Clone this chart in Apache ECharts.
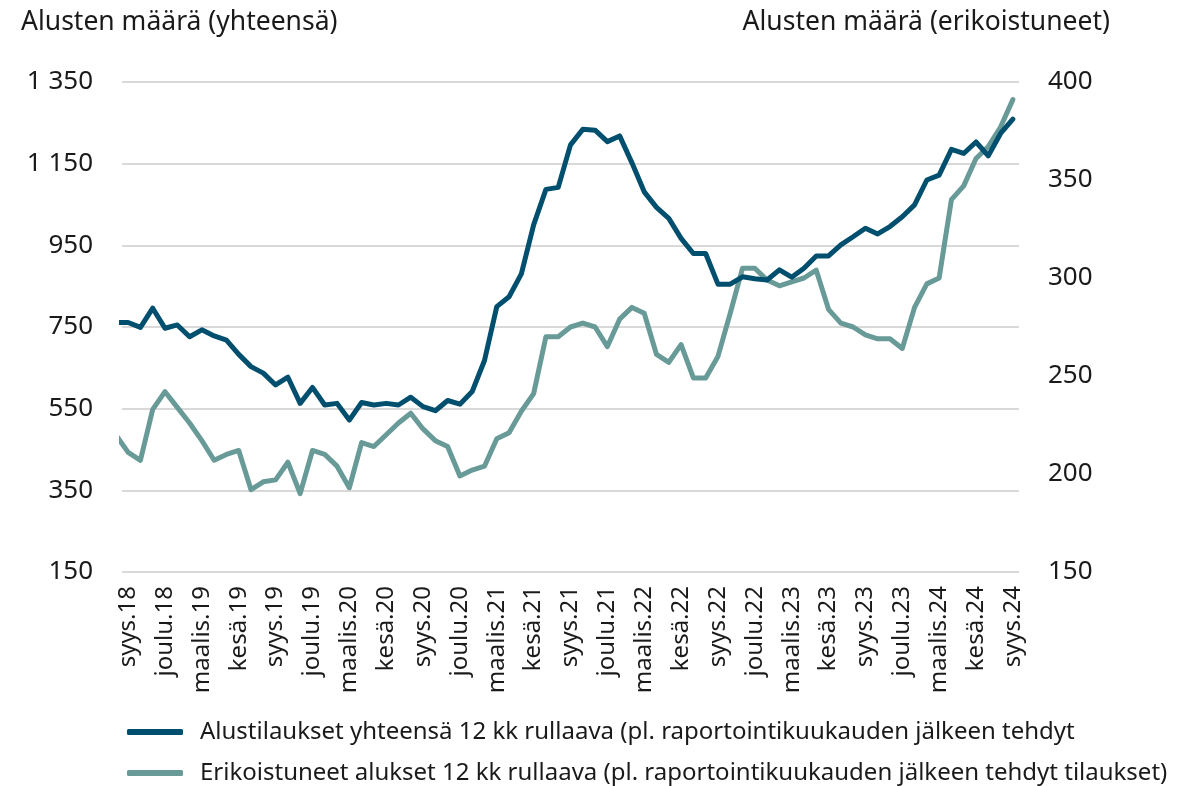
<!DOCTYPE html>
<html>
<head>
<meta charset="utf-8">
<title>Alusten määrä</title>
<script src="https://cdn.jsdelivr.net/npm/echarts@6/dist/echarts.min.js"></script>
<style>
  html, body { margin: 0; padding: 0; background: #fff; }
  #main { width: 1191px; height: 786px; }
</style>
</head>
<body>
<div id="main"></div>
<script>
// kuukaudet: ensimmäinen (elo.18) jää kuvan reunan ulkopuolelle
var kuukaudet = [
    'elo.18', 'syys.18', 'loka.18', 'marras.18', 'joulu.18',
    'tammi.19', 'helmi.19', 'maalis.19', 'huhti.19', 'touko.19', 'kesä.19', 'heinä.19', 'elo.19', 'syys.19', 'loka.19', 'marras.19', 'joulu.19',
    'tammi.20', 'helmi.20', 'maalis.20', 'huhti.20', 'touko.20', 'kesä.20', 'heinä.20', 'elo.20', 'syys.20', 'loka.20', 'marras.20', 'joulu.20',
    'tammi.21', 'helmi.21', 'maalis.21', 'huhti.21', 'touko.21', 'kesä.21', 'heinä.21', 'elo.21', 'syys.21', 'loka.21', 'marras.21', 'joulu.21',
    'tammi.22', 'helmi.22', 'maalis.22', 'huhti.22', 'touko.22', 'kesä.22', 'heinä.22', 'elo.22', 'syys.22', 'loka.22', 'marras.22', 'joulu.22',
    'tammi.23', 'helmi.23', 'maalis.23', 'huhti.23', 'touko.23', 'kesä.23', 'heinä.23', 'elo.23', 'syys.23', 'loka.23', 'marras.23', 'joulu.23',
    'tammi.24', 'helmi.24', 'maalis.24', 'huhti.24', 'touko.24', 'kesä.24', 'heinä.24', 'elo.24', 'syys.24'
];

// Alustilaukset yhteensä (vasen akseli)
var yhteensa = [
    761,
    761, 749, 796, 747, 755, 726, 743, 728, 718, 683, 653, 637,
    608, 627, 563, 602, 559, 563, 522, 565, 559, 563, 559, 578,
    555, 545, 570, 561, 592, 668, 800, 824, 880, 1000, 1087, 1092,
    1196, 1234, 1232, 1204, 1218, 1152, 1081, 1043, 1016, 967, 930, 930,
    855, 855, 873, 868, 865, 890, 872, 894, 924, 924, 951, 971,
    992, 978, 996, 1020, 1049, 1110, 1122, 1185, 1175, 1203, 1169, 1224,
    1259
];

// Erikoistuneet alukset (oikea akseli)
var erikoistuneet = [
    220,
    211, 207, 233, 242, 234, 226, 217, 207, 210, 212, 192, 196,
    197, 206, 190, 212, 210, 204, 193, 216, 214, 220, 226, 231,
    223, 217, 214, 199, 202, 204, 218, 221, 232, 241, 270, 270,
    275, 277, 275, 265, 279, 285, 282, 261, 257, 266, 249, 249,
    260, 282, 305, 305, 299, 296, 298, 300, 304, 284, 277, 275,
    271, 269, 269, 264, 285, 297, 300, 340, 347, 361, 367, 377,
    391
];

var vasenTicks = { min: 150, max: 1350, interval: 200 };
var oikeaTicks = { min: 150, max: 400, interval: 50 };

var sarjaNimet = [
    'Alustilaukset yhteensä 12 kk rullaava (pl. raportointikuukauden jälkeen tehdyt',
    'Erikoistuneet alukset 12 kk rullaava (pl. raportointikuukauden jälkeen tehdyt tilaukset)'
];

var fontti = '"Noto Sans", "Open Sans", sans-serif';
var tekstiVari = '#1a1a1a';
var varit = ['#004f6e', '#689a97'];

function pisteet(arvot) {
    // indeksi -1 = elo.18 (leikataan pois)
    return arvot.map(function (v, i) { return [i - 1, v]; });
}

function tuhaterotin(v) {
    return String(v).replace(/\B(?=(\d{3})+(?!\d))/g, ' ');
}

function selite(nimi, ylä) {
    return {
        orient: 'vertical',
        left: 127,
        top: ylä,
        padding: 0,
        itemWidth: 56,
        itemHeight: 6,
        icon: 'roundRect',
        textStyle: { fontSize: 24, lineHeight: 28, color: tekstiVari, fontFamily: fontti, padding: [0, 0, 0, 12] },
        data: [nimi]
    };
}

var myChart = echarts.init(document.getElementById('main'));
var option = {
    backgroundColor: '#fff',
    textStyle: { fontFamily: fontti, color: tekstiVari },
    title: [{
        text: 'Alusten määrä (yhteensä)',
        left: 16,
        top: 4,
        textStyle: { fontSize: 26.5, fontWeight: 'normal', color: tekstiVari, fontFamily: fontti }
    }, {
        text: 'Alusten määrä (erikoistuneet)',
        right: 76,
        top: 4,
        textStyle: { fontSize: 26.5, fontWeight: 'normal', color: tekstiVari, fontFamily: fontti }
    }],
    legend: [selite(sarjaNimet[0], 718), selite(sarjaNimet[1], 759)],
    grid: {
        left: 122,
        right: 172,
        top: 82,
        bottom: 214
    },
    xAxis: [{
        type: 'category',
        data: kuukaudet.slice(1),
        boundaryGap: true,
        axisLine: { show: false },
        axisTick: { show: false },
        axisLabel: {
            interval: 2,
            rotate: 90,
            margin: 14,
            fontSize: 24,
            color: tekstiVari,
            fontFamily: fontti
        }
    }, {
        type: 'value',
        show: false,
        min: -0.5,
        max: kuukaudet.length - 1.5
    }],
    yAxis: [{
        type: 'value',
        min: vasenTicks.min,
        max: vasenTicks.max,
        interval: vasenTicks.interval,
        axisLine: { show: false },
        axisTick: { show: false },
        axisLabel: {
            fontSize: 26,
            margin: 29,
            color: tekstiVari,
            fontFamily: fontti,
            formatter: tuhaterotin
        },
        splitLine: { lineStyle: { color: '#d9d9d9', width: 2 } }
    }, {
        type: 'value',
        min: oikeaTicks.min,
        max: oikeaTicks.max,
        interval: oikeaTicks.interval,
        axisLine: { show: false },
        axisTick: { show: false },
        axisLabel: {
            fontSize: 26,
            margin: 29,
            color: tekstiVari,
            fontFamily: fontti
        },
        splitLine: { show: false }
    }],
    series: [{
        name: sarjaNimet[0],
        type: 'line',
        xAxisIndex: 1,
        yAxisIndex: 0,
        data: pisteet(yhteensa),
        showSymbol: false,
        symbol: 'none',
        clip: true,
        z: 3,
        itemStyle: { color: varit[0] },
        lineStyle: { color: varit[0], width: 5, cap: 'round', join: 'round' }
    }, {
        name: sarjaNimet[1],
        type: 'line',
        xAxisIndex: 1,
        yAxisIndex: 1,
        data: pisteet(erikoistuneet),
        showSymbol: false,
        symbol: 'none',
        clip: true,
        z: 2,
        itemStyle: { color: varit[1] },
        lineStyle: { color: varit[1], width: 5, cap: 'round', join: 'round' }
    }],
    animation: false
};

myChart.setOption(option);
</script>
</body>
</html>
